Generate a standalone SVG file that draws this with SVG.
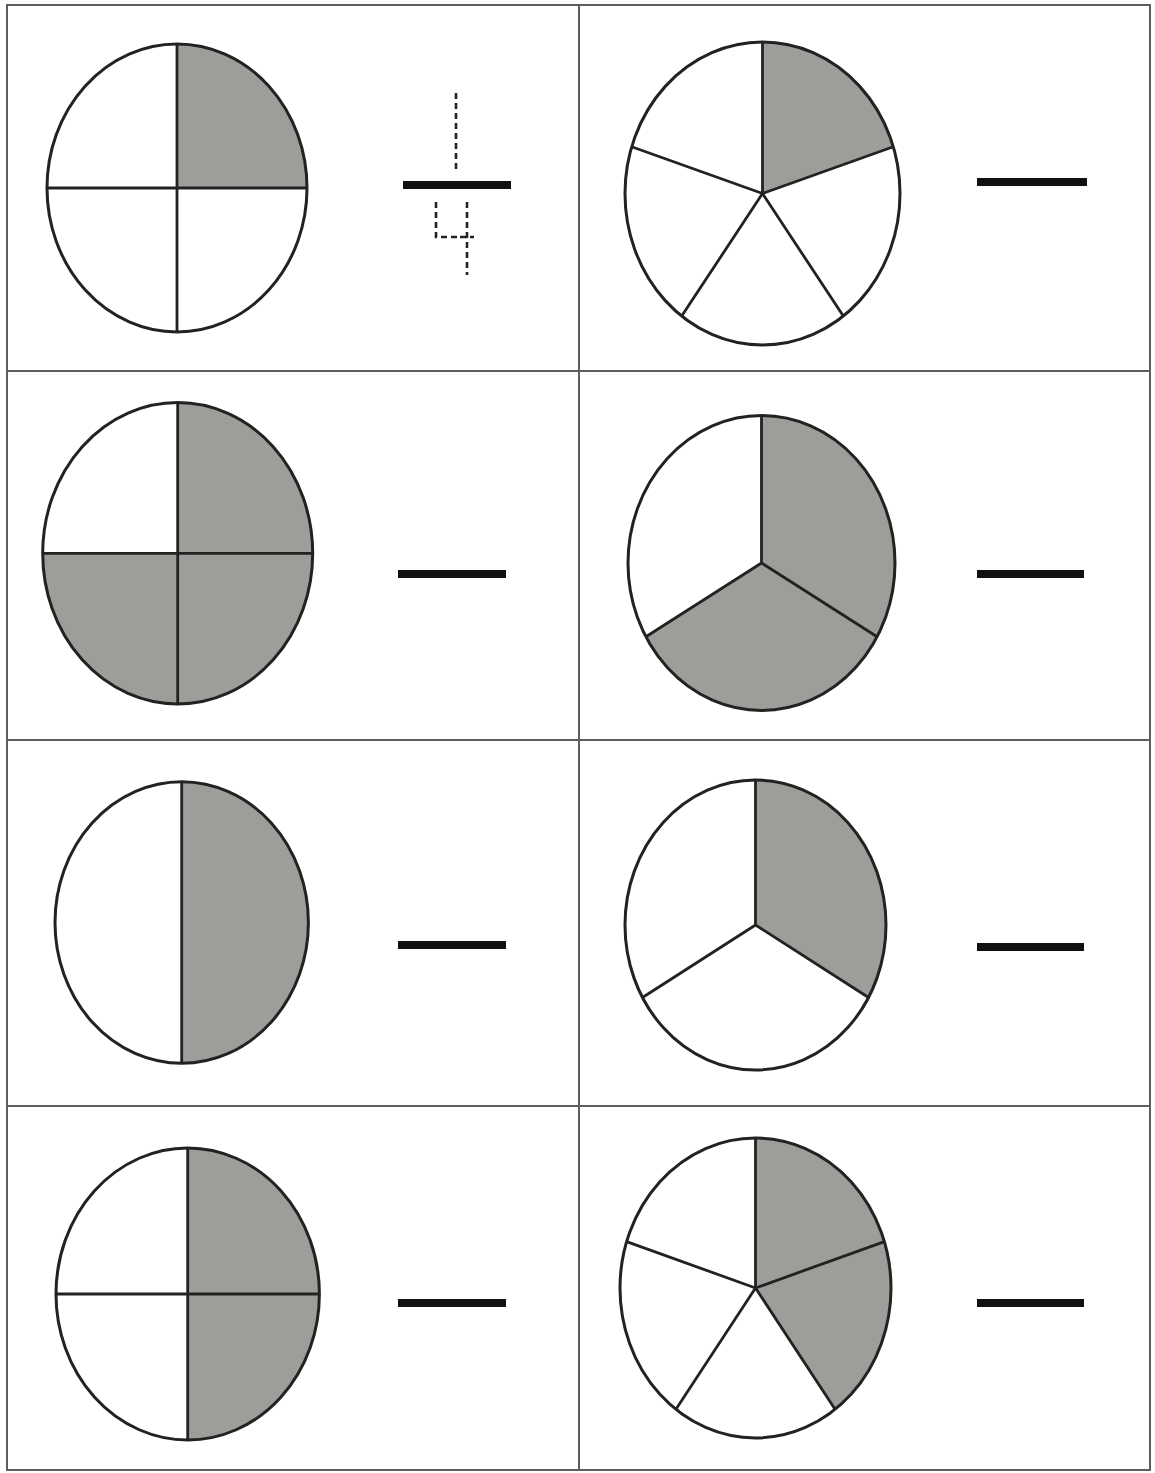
<svg xmlns="http://www.w3.org/2000/svg" width="1155" height="1473" viewBox="0 0 1155 1473">
<style>
.grid{fill:none;stroke:#5e5e5e;stroke-width:2}
.shade{fill:#9b9e99;stroke:none}
.rim{fill:none;stroke:#222;stroke-width:3}
.spoke{fill:none;stroke:#222;stroke-width:2.8}
.blank{stroke:#111;stroke-width:8;stroke-linecap:butt}
.dash{fill:none;stroke:#222;stroke-width:2.6;stroke-dasharray:6,4}
</style>
<rect width="1155" height="1473" fill="#fff"/>
<g id="grid">
<rect class="grid" x="7" y="5" width="1143" height="1465"/>
<line class="grid" x1="579" y1="5" x2="579" y2="1470"/>
<line class="grid" x1="7" y1="371" x2="1150" y2="371"/>
<line class="grid" x1="7" y1="740" x2="1150" y2="740"/>
<line class="grid" x1="7" y1="1106" x2="1150" y2="1106"/>
</g>
<g id="pie1">
<path class="shade" d="M177,188 L177,44 A130,144 0 0 1 307,188 Z"/>
<line class="spoke" x1="177" y1="44" x2="177" y2="332"/>
<line class="spoke" x1="47" y1="188" x2="307" y2="188"/>
<ellipse class="rim" cx="177" cy="188" rx="130" ry="144"/>
</g>
<g id="pie2">
<path class="shade" d="M762.5,193.5 L762.5,42 A137.5,151.5 0 0 1 893.3,146.7 Z"/>
<path class="spoke" d="M762.5,193.5 L762.5,42 M762.5,193.5 L893.3,146.7 M762.5,193.5 L843.3,316.1 M762.5,193.5 L681.7,316.1 M762.5,193.5 L631.7,146.7"/>
<ellipse class="rim" cx="762.5" cy="193.5" rx="137.5" ry="151.5"/>
</g>
<g id="pie3">
<path class="shade" d="M177.7,553.3 L177.7,402.6 A135,150.7 0 1 1 42.7,553.3 Z"/>
<line class="spoke" x1="177.7" y1="402.6" x2="177.7" y2="704"/>
<line class="spoke" x1="42.7" y1="553.3" x2="312.7" y2="553.3"/>
<ellipse class="rim" cx="177.7" cy="553.3" rx="135" ry="150.7"/>
</g>
<g id="pie4">
<path class="shade" d="M761.5,563 L761.5,415.5 A133.5,147.5 0 1 1 645.9,636.75 Z"/>
<path class="spoke" d="M761.5,563 L761.5,415.5 M761.5,563 L877.1,636.75 M761.5,563 L645.9,636.75"/>
<ellipse class="rim" cx="761.5" cy="563" rx="133.5" ry="147.5"/>
</g>
<g id="pie5">
<path class="shade" d="M181.7,781.7 A126.7,140.8 0 0 1 181.7,1063.3 Z"/>
<line class="spoke" x1="181.7" y1="781.7" x2="181.7" y2="1063.3"/>
<ellipse class="rim" cx="181.7" cy="922.5" rx="126.7" ry="140.8"/>
</g>
<g id="pie6">
<path class="shade" d="M755.5,925 L755.5,780 A130.5,145 0 0 1 868.5,997.5 Z"/>
<path class="spoke" d="M755.5,925 L755.5,780 M755.5,925 L868.5,997.5 M755.5,925 L642.5,997.5"/>
<ellipse class="rim" cx="755.5" cy="925" rx="130.5" ry="145"/>
</g>
<g id="pie7">
<path class="shade" d="M187.7,1148 A131.7,146 0 0 1 187.7,1440 Z"/>
<line class="spoke" x1="187.7" y1="1148" x2="187.7" y2="1440"/>
<line class="spoke" x1="56" y1="1294" x2="319.4" y2="1294"/>
<ellipse class="rim" cx="187.7" cy="1294" rx="131.7" ry="146"/>
</g>
<g id="pie8">
<path class="shade" d="M755.5,1288 L755.5,1138 A135.5,150 0 0 1 835.2,1409.4 Z"/>
<path class="spoke" d="M755.5,1288 L755.5,1138 M755.5,1288 L884.4,1241.6 M755.5,1288 L835.2,1409.4 M755.5,1288 L675.8,1409.4 M755.5,1288 L626.6,1241.6"/>
<ellipse class="rim" cx="755.5" cy="1288" rx="135.5" ry="150"/>
</g>
<g id="blank1">
<line class="blank" x1="403" y1="185" x2="511" y2="185"/>
<path class="dash" d="M456,93 L456,170 M436,202 L436,237 L467,237 M467,202 L467,275 M460,237 L474,237"/>
</g>
<g id="blank2"><line class="blank" x1="977" y1="182" x2="1087" y2="182"/></g>
<g id="blank3"><line class="blank" x1="398" y1="574" x2="506" y2="574"/></g>
<g id="blank4"><line class="blank" x1="977" y1="574" x2="1084" y2="574"/></g>
<g id="blank5"><line class="blank" x1="398" y1="945" x2="506" y2="945"/></g>
<g id="blank6"><line class="blank" x1="977" y1="947" x2="1084" y2="947"/></g>
<g id="blank7"><line class="blank" x1="398" y1="1303" x2="506" y2="1303"/></g>
<g id="blank8"><line class="blank" x1="977" y1="1303" x2="1084" y2="1303"/></g>
</svg>
